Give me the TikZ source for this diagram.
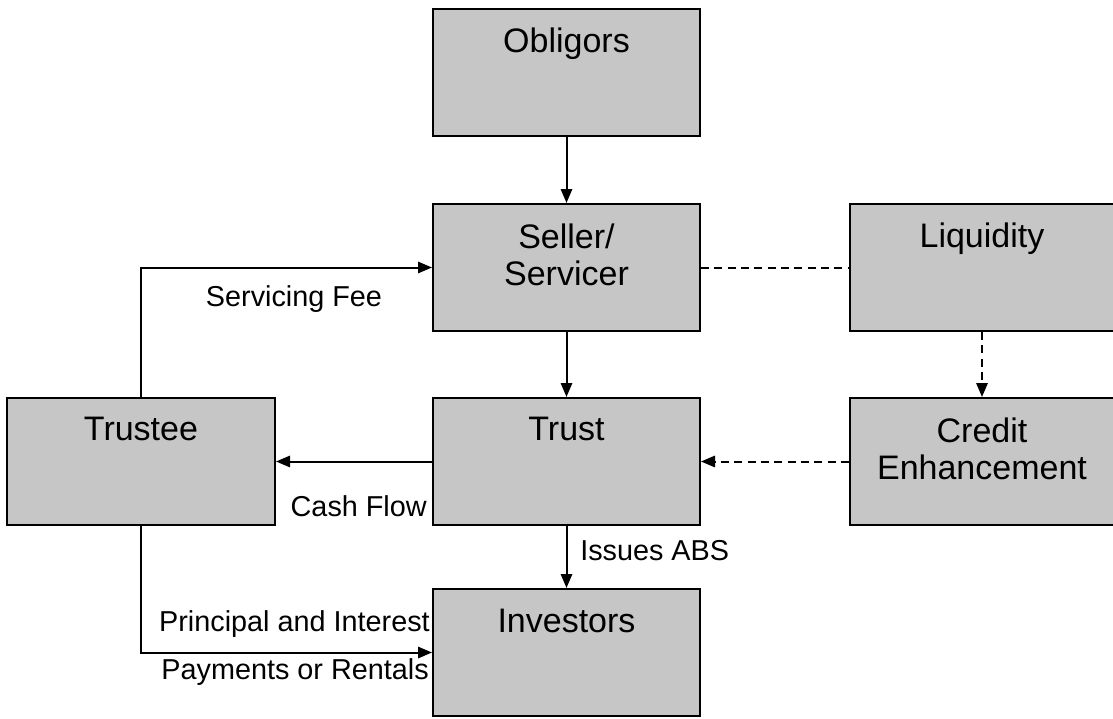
\documentclass[tikz,border=0pt]{standalone}
\usepackage{fontspec}
\setmainfont{Liberation Sans}
\usetikzlibrary{arrows.meta,calc}
\definecolor{boxgray}{RGB}{198,198,198}
\begin{document}
\begin{tikzpicture}[x=0.75pt,y=-0.75pt,
 box/.style={draw=black,fill=boxgray,line width=1.5pt,minimum width=200.25pt,minimum height=95.25pt,inner sep=0pt,anchor=north west},
 boxtext/.style={font=\fontsize{25.5pt}{27.75pt}\selectfont,align=center,anchor=base,inner sep=0pt},
 lbl/.style={font=\fontsize{21.6pt}{26pt}\selectfont,inner sep=0pt},
 arr/.style={line width=1.5pt,-{Triangle[length=10.5pt,width=8.5pt]}},
 link/.style={line width=1.5pt},
 dsh/.style={dash pattern=on 6pt off 4pt}
]
\useasboundingbox (0,0) rectangle (1113,718);
% boxes
\node[box] (ob) at (432,8) {};
\node[box] (ss) at (432,203) {};
\node[box,minimum width=198pt] (liq) at (849,203) {};
\node[box] (trust) at (432,397) {};
\node[box,minimum width=198pt] (ce) at (849,397) {};
\node[box,minimum width=201pt] (trustee) at (6,397) {};
\node[box] (inv) at (432,588) {};
% box texts
\node[boxtext] (obt) at ($(ob.north)+(0,44)$) {Obligors};
\node[boxtext] (sst) at ($(ss.north)+(0,82)$) {Seller/\\Servicer};
\node[boxtext] (liqt) at ($(liq.north)+(0,44)$) {Liquidity};
\node[boxtext] (trustt) at ($(trust.north)+(0,43)$) {Trust};
\node[boxtext] (cet) at ($(ce.north)+(0,82)$) {Credit\\Enhancement};
\node[boxtext] (trusteet) at ($(trustee.north)+(0,43)$) {Trustee};
\node[boxtext] (invt) at ($(inv.north)+(0,44)$) {Investors};
% connectors
\draw[arr] (ob.south) -- (ss.north);
\draw[arr] (ss.south) -- (trust.north);
\draw[arr] (trust.south) -- (inv.north);
\draw[arr] (trust.west) -- (trustee.east);
\draw[arr] (trustee.north) |- (ss.west);
\draw[arr] (trustee.south) |- (inv.west);
\draw[link,dsh] (ss.east) -- (liq.west);
\draw[arr,dsh] (liq.south) -- (ce.north);
\draw[arr,dsh] (ce.west) -- (trust.east);
% labels
\node[lbl] (l1) at (294,299) {Servicing Fee};
\node[lbl,anchor=east] (l2) at (427,506) {Cash Flow};
\node[lbl,anchor=west] (l3) at (580,551) {Issues ABS};
\node[lbl,anchor=east] (l4) at (430,624) {Principal and Interest};
\node[lbl,anchor=east] (l5) at (429,672) {Payments or Rentals};
\end{tikzpicture}
\end{document}
